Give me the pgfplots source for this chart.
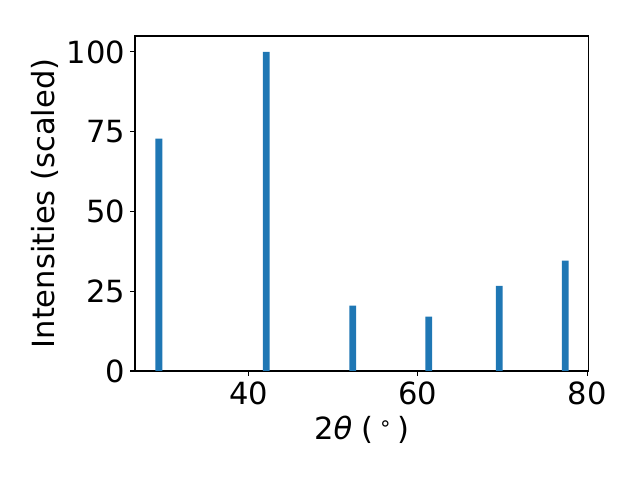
\documentclass[border=0pt]{standalone}
\usepackage{fontspec}
\setmainfont{DejaVu Sans}
\usepackage{pgfplots}
\pgfplotsset{compat=1.18}
\definecolor{c0}{HTML}{1F77B4}
\begin{document}
\begin{tikzpicture}
\useasboundingbox (-97.2pt,-78.5pt) rectangle (363.6pt,267.1pt);
\begin{axis}[
  at={(0,0)}, anchor=south west,
  scale only axis,
  width=326.2pt, height=241.2pt,
  xmin=26.6, xmax=80.1,
  ymin=0, ymax=105,
  xtick={40,60,80},
  ytick={0,25,50,75,100},
  tick align=outside,
  tick pos=left,
  major tick length=3.5pt,
  every tick/.style={line width=0.8pt, black},
  axis line style={line width=0.8pt},
  /pgf/number format/assume math mode=true,
  ticklabel style={font=\fontsize{22}{26}\selectfont},
  xticklabel style={yshift=-1pt},
  label style={font=\fontsize{22}{26}\selectfont},
  xlabel={2\textit{θ} (\,\raisebox{0.55ex}{\fontsize{15}{18}\selectfont ∘}\,)},
  ylabel={Intensities (scaled)},
  xlabel style={at={(axis description cs:0.5,0)}, anchor=center, yshift=-42.5pt},
  ylabel style={at={(axis description cs:0,0.5)}, anchor=center, rotate=0, yshift=64.8pt},
]
\addplot[ybar, bar width=0.8, fill=c0, draw=none] coordinates {
(29.42,72.8) (42.1,100) (52.3,20.5) (61.3,17.0) (69.6,26.7) (77.4,34.6)
};
\end{axis}
\end{tikzpicture}
\end{document}
